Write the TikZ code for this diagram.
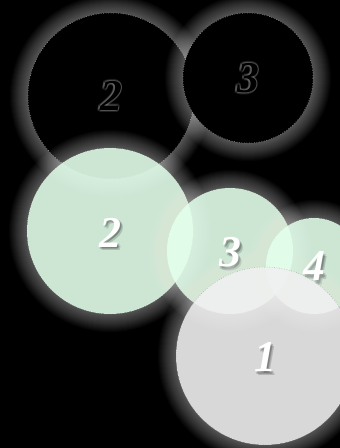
\documentclass[tikz,border=0pt]{standalone}
\usepackage{fontspec}
\setmainfont{Liberation Serif}
\usetikzlibrary{positioning}

\definecolor{mintgreen}{RGB}{228,255,236}
\definecolor{palegray}{RGB}{240,240,240}

% soft white halo round a circle (ring only)
\newcommand\halo[2]{%
  \foreach \k in {18,...,1}
    \fill[white, opacity=0.024, even odd rule] (#1) circle [radius=#2pt+\k pt]
      (#1) circle [radius=#2pt];}

\begin{document}
\begin{tikzpicture}[x=1pt, y=-1pt,
    ball/.style  = {circle, inner sep=0pt, dotted, line width=0.5pt},
    dark/.style  = {ball, fill=black, draw=white!75!black},
    mint/.style  = {ball, fill=mintgreen, fill opacity=0.9,
                    draw=white, draw opacity=0.6},
    pale/.style  = {ball, fill=palegray, fill opacity=0.9,
                    draw=gray, draw opacity=0.8},
    lbl/.style   = {inner sep=0pt,
                    font=\fontsize{44}{44}\selectfont\bfseries\itshape},
    shade/.style = {lbl, text=black, text opacity=0.16},
    gleam/.style = {lbl, text=white, text opacity=0.12}
]
\useasboundingbox (0,0) rectangle (340,448);
\fill[black] (0,0) rectangle (340,448);
\clip (0,0) rectangle (340,448);

% centres
\coordinate (cb2) at (111,96);
\coordinate (cb3) at (248,78);
\coordinate (cg2) at (110,231);
\coordinate (cg3) at (230,251);
\coordinate (cg4) at (314,266);
\coordinate (cp1) at (265,356);

% black row
\halo{cb2}{83}
\node[dark, minimum size=166pt] (b2) at (cb2) {};
\halo{cb3}{65}
\node[dark, minimum size=130pt] (b3) at (cb3) {};
\foreach \a [count=\i] in {0,45,...,315}{
  \node[gleam] (b2g\i) at ([shift={(\a:1.8)}]b2.center) {2};
  \node[gleam] (b3g\i) at ([shift={(\a:1.8)}]b3.center) {3};
}
\node[lbl, text=black] (b2t) at (b2.center) {2};
\node[lbl, text=black] (b3t) at (b3.center) {3};

% green row
\halo{cg2}{83}
\node[mint, minimum size=166pt] (g2) at (cg2) {};
\halo{cg3}{63}
\node[mint, minimum size=126pt] (g3) at (cg3) {};
\halo{cg4}{48}
\node[mint, minimum size=96pt] (g4) at (cg4) {};
\foreach \dx/\dy [count=\i] in {2/3,3/5,1/4}{
  \node[shade] (g2s\i) at ([shift={(\dx,\dy)}]g2.center) {2};
  \node[shade] (g3s\i) at ([shift={(\dx,\dy)}]g3.center) {3};
  \node[shade] (g4s\i) at ([shift={(\dx,\dy)}]g4.center) {4};
}
\node[lbl, text=white] (g2t) at ([yshift=-2]g2.center) {2};
\node[lbl, text=white] (g3t) at ([yshift=-1]g3.center) {3};
\node[lbl, text=white] (g4t) at (g4.center) {4};

% grey one
\halo{cp1}{89}
\node[pale, minimum size=178pt] (p1) at (cp1) {};
\foreach \dx/\dy [count=\i] in {2/3,3/5,1/4}
  \node[shade] (p1s\i) at ([shift={(\dx,\dy)}]p1.center) {1};
\node[lbl, text=white] (p1t) at ([yshift=-1]p1.center) {1};
\end{tikzpicture}
\end{document}
